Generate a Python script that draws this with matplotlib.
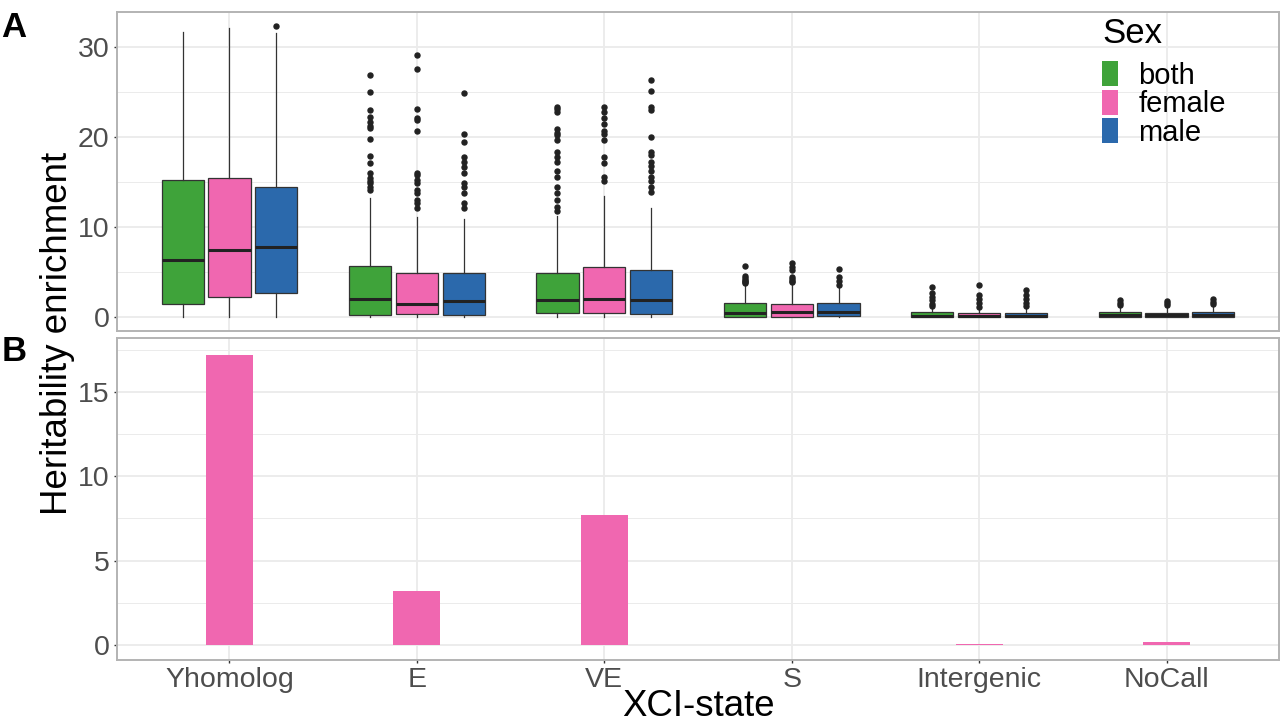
import matplotlib
matplotlib.use("Agg")
import matplotlib.pyplot as plt
from matplotlib.patches import Patch
import numpy as np

plt.rcParams['font.family'] = ['Liberation Sans', 'DejaVu Sans']

categories = ['Yhomolog', 'E', 'VE', 'S', 'Intergenic', 'NoCall']
sexes = ['both', 'female', 'male']
sex_colors = ['#3FA33A', '#F067B0', '#2B69AC']

# Panel A box statistics per sex (one value per category)
both_q1 = [1.5, 0.33, 0.55, 0.10, 0.05, 0.05]
both_med = [6.4, 2.1, 1.96, 0.55, 0.20, 0.26]
both_q3 = [15.25, 5.7, 4.9, 1.6, 0.6, 0.6]
both_lo = [0, 0, 0, 0, 0, 0]
both_hi = [31.7, 13.3, 11.3, 3.5, 1.2, 1.2]
both_out = [
    [],
    [26.9, 25.0, 23.0, 22.3, 21.7, 21.3, 21.0, 19.8, 17.9, 17.1, 16.0, 15.5, 15.2, 14.9, 14.5, 14.1],
    [23.4, 23.1, 22.8, 20.9, 20.5, 20.3, 19.7, 18.4, 17.8, 17.3, 16.3, 15.6, 14.5, 13.8, 13.0, 12.3, 11.8],
    [5.7, 4.6, 4.4, 4.2, 4.0, 3.9, 3.8],
    [3.4, 2.7, 2.3, 1.9, 1.5, 1.3],
    [1.9, 1.6, 1.4],
]

female_q1 = [2.3, 0.37, 0.48, 0.10, 0.05, 0.05]
female_med = [7.5, 1.5, 2.07, 0.60, 0.20, 0.25]
female_q3 = [15.5, 4.98, 5.6, 1.48, 0.45, 0.55]
female_lo = [0, 0, 0, 0, 0, 0]
female_hi = [32.1, 11.1, 13.5, 3.6, 1.0, 1.2]
female_out = [
    [],
    [29.15, 27.6, 23.1, 22.1, 21.9, 20.7, 16.0, 15.8, 15.3, 14.9, 14.1, 13.8, 13.0, 12.7, 12.1],
    [23.4, 22.8, 22.1, 21.5, 20.7, 20.4, 19.7, 17.8, 17.1, 15.6, 15.2],
    [6.0, 5.6, 5.3, 4.5, 4.3, 4.1, 3.9],
    [3.6, 2.5, 2.1, 1.6, 1.2],
    [1.8, 1.6, 1.4],
]

male_q1 = [2.77, 0.33, 0.40, 0.18, 0.05, 0.05]
male_med = [7.8, 1.88, 1.96, 0.63, 0.22, 0.25]
male_q3 = [14.5, 4.9, 5.24, 1.6, 0.55, 0.6]
male_lo = [0, 0, 0, 0, 0, 0]
male_hi = [31.6, 10.9, 12.1, 3.4, 1.1, 1.2]
male_out = [
    [32.3],
    [24.9, 20.4, 19.5, 17.8, 17.3, 16.7, 16.0, 14.9, 14.5, 13.8, 12.7, 12.1],
    [26.4, 25.1, 23.4, 23.0, 20.0, 18.4, 18.0, 17.3, 16.8, 16.3, 15.6, 15.2, 14.5, 13.9],
    [5.4, 4.5, 4.0, 3.6],
    [3.1, 2.5, 2.0, 1.6, 1.3],
    [2.0, 1.7, 1.5],
]

# Panel B bar values (female)
female_bar = [17.2, 3.2, 7.7, 0.0, 0.05, 0.2]

stats_by_sex = [
    (both_q1, both_med, both_q3, both_lo, both_hi, both_out),
    (female_q1, female_med, female_q3, female_lo, female_hi, female_out),
    (male_q1, male_med, male_q3, male_lo, male_hi, male_out),
]

W, H = 1280, 723
fig = plt.figure(figsize=(W / 100, H / 100), dpi=100)

def fx(px):
    return px / W

def fy(py):
    return 1 - py / H

axA = fig.add_axes([fx(117), fy(331), fx(1279) - fx(117), fy(12) - fy(331)])
axB = fig.add_axes([fx(117), fy(660), fx(1279) - fx(117), fy(338) - fy(660)])

grid_col = '#EBEBEB'
border_col = '#B3B3B3'
tick_col = '#4D4D4D'
line_col = '#333333'

x = np.arange(len(categories))
offsets = [-0.25, 0.0, 0.25]

for ax in (axA, axB):
    ax.set_xlim(-0.6, len(categories) - 0.4)
    for s in ax.spines.values():
        s.set_color(border_col)
        s.set_linewidth(1.4)
    ax.set_axisbelow(True)
    ax.tick_params(axis='both', colors=line_col, labelcolor=tick_col,
                   labelsize=20.5, length=2.3, width=1, pad=3.0)
    ax.set_xticks(x)
    ax.grid(True, which='major', color=grid_col, linewidth=1.3)
    ax.grid(True, which='minor', axis='y', color=grid_col, linewidth=0.7)

# Panel A
for si, (q1, med, q3, lo, hi, out) in enumerate(stats_by_sex):
    stats = []
    for ci in range(len(categories)):
        stats.append(dict(q1=q1[ci], med=med[ci], q3=q3[ci], whislo=lo[ci],
                          whishi=hi[ci], fliers=out[ci]))
    axA.bxp(stats, positions=x + offsets[si], widths=0.225, patch_artist=True,
            showcaps=False,
            boxprops=dict(facecolor=sex_colors[si], edgecolor=line_col, linewidth=0.9),
            medianprops=dict(color='#222222', linewidth=2.2),
            whiskerprops=dict(color=line_col, linewidth=0.9),
            flierprops=dict(marker='o', markerfacecolor='#222222',
                            markeredgecolor='#222222', markersize=3.6))

axA.set_ylim(-1.5, 33.9)
axA.set_yticks([0, 10, 20, 30])
axA.set_yticks([5, 15, 25], minor=True)
axA.tick_params(axis='y', which='minor', length=0)
axA.set_xticks(x)
axA.set_xticklabels([])
axA.tick_params(axis='x', length=0)

handles = [Patch(facecolor=c, edgecolor='none') for c in sex_colors]
leg = axA.legend(handles, sexes, loc='upper left',
                 bbox_to_anchor=(fx(1102), fy(61)), bbox_transform=fig.transFigure,
                 frameon=False, fontsize=21,
                 handlelength=0.55, handleheight=0.95, labelspacing=0.0,
                 handletextpad=0.7, borderpad=0, borderaxespad=0)
fig.text(fx(1102), fy(17), 'Sex', ha='left', va='top', fontsize=25)

# Panel B
axB.bar(x, female_bar, width=0.25, color=sex_colors[1], edgecolor='none')
axB.set_ylim(-0.89, 18.2)
axB.set_yticks([0, 5, 10, 15])
axB.set_yticks([2.5, 7.5, 12.5, 17.5], minor=True)
axB.tick_params(axis='y', which='minor', length=0)
axB.set_xticks(x)
axB.set_xticklabels(categories)

fig.text(fx(58), fy(333), 'Heritability enrichment', rotation=90,
         ha='center', va='center', fontsize=26.5)
fig.text(fx(698), fy(706), 'XCI-state', ha='center', va='center', fontsize=26.4)
fig.text(fx(1), fy(11), 'A', ha='left', va='top', fontsize=25, fontweight='bold')
fig.text(fx(2), fy(335), 'B', ha='left', va='top', fontsize=25, fontweight='bold')

fig.savefig('out.png', dpi=100)
